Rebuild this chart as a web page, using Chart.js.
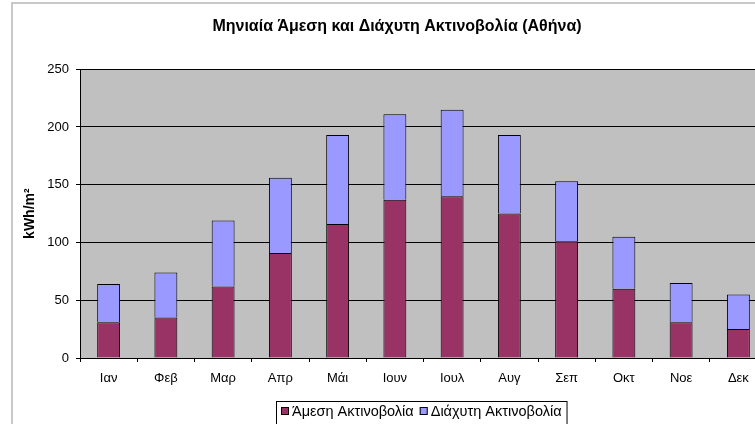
<!DOCTYPE html>
<html>
<head>
<meta charset="utf-8">
<title>Μηνιαία Άμεση και Διάχυτη Ακτινοβολία (Αθήνα)</title>
<script src="https://cdn.jsdelivr.net/npm/chart.js@4.4.1/dist/chart.umd.min.js"></script>
<style>
	html, body { margin: 0; padding: 0; background: #fff; overflow: hidden; }
	#wrap { position: absolute; left: 0; top: 0; width: 800px; height: 440px; }
</style>
</head>
<body>
<div id="wrap"><canvas id="radChart" width="800" height="440"></canvas></div>
<script>
const months = ["Ιαν", "Φεβ", "Μαρ", "Απρ", "Μάι", "Ιουν", "Ιουλ", "Αυγ", "Σεπ", "Οκτ", "Νοε", "Δεκ"];
const directRad = [31, 35, 62, 91, 116, 137, 140, 125, 101, 60, 31, 25];
const diffuseRad = [33, 39, 57, 65, 77, 74, 75, 68, 52, 45, 34, 30];
const seriesNames = ["Άμεση Ακτινοβολία", "Διάχυτη Ακτινοβολία"];
const seriesColors = ["#993366", "#9999FF"];
const yTicks = { min: 0, max: 250, step: 50 };

const fontFam = "'Liberation Sans', Arial, sans-serif";

// grey plot area + chart frame (excel look)
const plotBg = {
	id: 'plotBg',
	beforeDraw: function(chart) {
		let ctx = chart.ctx;
		let a = chart.chartArea;
		ctx.save();
		ctx.fillStyle = '#C0C0C0';
		ctx.fillRect(a.left, a.top, a.right - a.left, a.bottom - a.top);
		ctx.fillStyle = '#C8C8C8';
		ctx.fillRect(11, 2, 2, 460);
		ctx.fillRect(11, 2, 780, 2);
		ctx.restore();
	}
};

// boxed legend under the axis
const boxLegend = {
	id: 'boxLegend',
	afterDraw: function(chart) {
		let ctx = chart.ctx;
		let a = chart.chartArea;
		let sets = chart.data.datasets;
		ctx.save();
		ctx.font = "14.5px " + fontFam;
		let sw = 8, gap = 3, between = 6, pad = 5;
		let total = pad * 2;
		sets.forEach(function(ds, i) {
			total += sw + gap + ctx.measureText(ds.label).width;
			if(i > 0) { total += between; }
		});
		let left = Math.round((a.left + a.right) / 2 - 2 - total / 2);
		let top = a.bottom + 43;
		let cy = top + 10;
		ctx.fillStyle = '#fff';
		ctx.fillRect(left, top, total, 40);
		ctx.strokeStyle = '#000';
		ctx.lineWidth = 1;
		ctx.strokeRect(left + 0.5, top + 0.5, total, 40);
		let x = left + pad;
		ctx.textBaseline = 'middle';
		sets.forEach(function(ds) {
			ctx.fillStyle = ds.backgroundColor;
			ctx.fillRect(x, cy - 4, sw, sw);
			ctx.strokeRect(x + 0.5, cy - 3.5, sw - 1, sw - 1);
			x += sw + gap;
			ctx.fillStyle = '#000';
			ctx.fillText(ds.label, x, cy + 1);
			x += ctx.measureText(ds.label).width + between;
		});
		ctx.restore();
	}
};

function drawRadChart(container) {
	let ctx = document.getElementById(container).getContext('2d');
	let chart = null;
	chart = new Chart(ctx, {
		type: 'bar',
		data: {
			labels: months,
			datasets: [{
				label: seriesNames[0],
				data: directRad,
				backgroundColor: seriesColors[0],
				borderColor: '#000',
				borderWidth: 1
			}, {
				label: seriesNames[1],
				data: diffuseRad,
				backgroundColor: seriesColors[1],
				borderColor: '#000',
				borderWidth: 1
			}]
		},
		options: {
			responsive: false,
			animation: false,
			layout: { padding: { left: 27, right: 33, top: 0, bottom: 52 } },
			datasets: { bar: { categoryPercentage: 1, barPercentage: 0.4 } },
			plugins: {
				legend: { display: false },
				tooltip: { enabled: false },
				title: {
					display: true,
					text: 'Μηνιαία Άμεση και Διάχυτη Ακτινοβολία (Αθήνα)',
					color: '#000',
					font: { family: fontFam, size: 16, weight: 'bold' },
					padding: { top: 17, bottom: 33 }
				}
			},
			scales: {
				x: {
					stacked: true,
					grid: { offset: true, drawOnChartArea: false, drawTicks: true, tickLength: 4, tickColor: '#000' },
					border: { color: '#000', width: 1 },
					ticks: { color: '#000', padding: 9, font: { family: fontFam, size: 13 } },
					afterFit: function(scale) { scale.height = 30; }
				},
				y: {
					stacked: true,
					min: yTicks.min,
					max: yTicks.max,
					ticks: { stepSize: yTicks.step, color: '#000', padding: 7, font: { family: fontFam, size: 13 } },
					grid: { color: '#000', lineWidth: 1, tickLength: 4, tickColor: '#000' },
					border: { color: '#000', width: 1 },
					title: {
						display: true,
						text: 'kWh/m²',
						color: '#000',
						font: { family: fontFam, size: 14, weight: 'bold' },
						padding: { top: -5, bottom: 0 }
					},
					afterFit: function(scale) { scale.width = 53; }
				}
			}
		},
		plugins: [plotBg, boxLegend]
	});
	return chart;
}

drawRadChart('radChart');
</script>
</body>
</html>
